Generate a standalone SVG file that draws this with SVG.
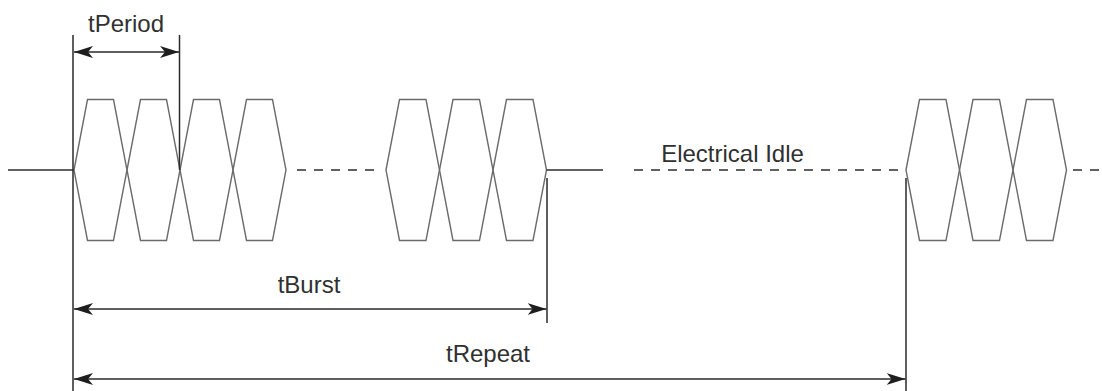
<svg xmlns="http://www.w3.org/2000/svg" width="1102" height="391" viewBox="0 0 1102 391">
  <style>
    .hex { fill: none; stroke: #6b6b6b; stroke-width: 1.4; stroke-linejoin: miter; }
    .sig { fill: none; stroke: #2e2e2e; stroke-width: 1.5; }
    .dash { fill: none; stroke: #2e2e2e; stroke-width: 1.5; stroke-dasharray: 9 8; }
    .dim { fill: none; stroke: #2a2a2a; stroke-width: 1.5; }
    .arr { fill: none; stroke: #2a2a2a; stroke-width: 1.6; marker-start: url(#ah); marker-end: url(#ah); }
    .lbl { font-family: "Liberation Sans", Arial, sans-serif; font-size: 24px; fill: #303030; text-anchor: middle; }
  </style>
  <defs>
    <marker id="ah" viewBox="0 0 19 12" refX="19" refY="6" markerWidth="19" markerHeight="12" orient="auto-start-reverse" markerUnits="userSpaceOnUse">
      <path d="M0,0 L19,6 L0,12 L5,6 z" fill="#1e1e1e"/>
    </marker>
  </defs>
  <rect width="1102" height="391" fill="#ffffff"/>

  <g id="signal">
    <line class="sig" x1="8" y1="170" x2="74" y2="170"/>
    <g id="burst1">
      <polygon class="hex" points="74,170 87.5,99.5 113.5,99.5 127,170 113.5,240.5 87.5,240.5"/>
      <polygon class="hex" points="127,170 140.5,99.5 166.5,99.5 180,170 166.5,240.5 140.5,240.5"/>
      <polygon class="hex" points="180,170 193.5,99.5 219.5,99.5 233,170 219.5,240.5 193.5,240.5"/>
      <polygon class="hex" points="233,170 246.5,99.5 272.5,99.5 286,170 272.5,240.5 246.5,240.5"/>
    </g>
    <line class="dash" x1="297" y1="170" x2="374" y2="170"/>
    <g id="burst2">
      <polygon class="hex" points="386,170 399.5,99.5 426,99.5 439.5,170 426,240.5 399.5,240.5"/>
      <polygon class="hex" points="439.5,170 453,99.5 479.5,99.5 493,170 479.5,240.5 453,240.5"/>
      <polygon class="hex" points="493,170 506.5,99.5 533,99.5 546.5,170 533,240.5 506.5,240.5"/>
    </g>
    <line class="sig" x1="546.5" y1="170" x2="603" y2="170"/>
    <line class="dash" x1="634" y1="170" x2="906" y2="170"/>
    <g id="burst3">
      <polygon class="hex" points="906,170 919.5,99.5 946,99.5 959.5,170 946,240.5 919.5,240.5"/>
      <polygon class="hex" points="959.5,170 973,99.5 999.5,99.5 1013,170 999.5,240.5 973,240.5"/>
      <polygon class="hex" points="1013,170 1026.5,99.5 1053,99.5 1066.5,170 1053,240.5 1026.5,240.5"/>
    </g>
    <line class="dash" x1="1073" y1="170" x2="1102" y2="170"/>
  </g>

  <g id="connectors">
    <line class="dim" x1="73" y1="35" x2="73" y2="391"/>
    <line class="dim" x1="179.5" y1="35" x2="179.5" y2="170"/>
    <line class="dim" x1="547" y1="178" x2="547" y2="323"/>
    <line class="dim" x1="906" y1="178" x2="906" y2="391"/>
    <line class="arr" x1="74" y1="52" x2="179" y2="52"/>
    <line class="arr" x1="74" y1="309" x2="546.5" y2="309"/>
    <line class="arr" x1="74" y1="379" x2="905.5" y2="379"/>
  </g>

  <g id="labels">
    <text id="tPeriod" class="lbl" x="126" y="32">tPeriod</text>
    <text id="tBurst" class="lbl" x="309" y="293">tBurst</text>
    <text id="tRepeat" class="lbl" x="488" y="362">tRepeat</text>
    <text id="idle" class="lbl" x="732.5" y="161.5">Electrical Idle</text>
  </g>
</svg>
